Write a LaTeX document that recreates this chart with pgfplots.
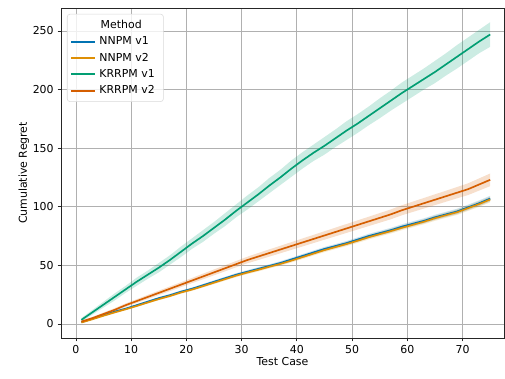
\documentclass[border=0pt]{standalone}
\usepackage{fontspec}
\setmainfont{DejaVu Sans}
\usepackage{pgfplots}
\usepackage{pgfplotstable}
\pgfplotsset{compat=1.18}
\usepgfplotslibrary{fillbetween}
\usetikzlibrary{calc}
\definecolor{cb1}{HTML}{0173B2}
\definecolor{cb2}{HTML}{DE8F05}
\definecolor{cb3}{HTML}{029E73}
\definecolor{cb4}{HTML}{D55E00}
\definecolor{gridc}{HTML}{B0B0B0}

\pgfplotstableread{
x y e
1 1.5 0.4
3 4.5 0.5
5 7.5 0.6
7 10.5 0.7
9 13 0.8
11 16 0.8
13 19 0.9
15 22 0.9
17 24.5 1.0
19 27.5 1.0
21 30 1.1
23 33 1.1
25 36 1.2
27 39 1.2
29 42 1.3
31 44.5 1.3
33 47 1.4
35 49.5 1.4
37 52 1.5
39 55 1.5
41 58 1.6
43 61 1.6
45 64 1.7
47 66.5 1.7
49 69 1.8
51 72 1.8
53 75 1.9
55 77.5 1.9
57 80 2.0
59 83 2.0
61 85.5 2.1
63 88 2.1
65 91 2.2
67 93.5 2.2
69 96 2.3
71 99.5 2.3
73 103 2.4
75 107 2.4
}\NA
\pgfplotstableread{
x y e
1 1.2 0.4
3 4 0.5
5 7 0.6
7 9.8 0.7
9 12.5 0.8
11 15.3 0.8
13 18.3 0.9
15 21.2 0.9
17 23.8 1.0
19 26.8 1.0
21 29.3 1.1
23 32.2 1.1
25 35.2 1.2
27 38.2 1.2
29 41.2 1.3
31 43.8 1.3
33 46.2 1.4
35 48.8 1.4
37 51.2 1.5
39 54 1.5
41 57 1.6
43 60 1.6
45 63 1.7
47 65.6 1.7
49 68.2 1.8
51 71 1.8
53 74 1.9
55 76.6 1.9
57 79.2 2.0
59 82 2.0
61 84.6 2.1
63 87.2 2.1
65 90.2 2.2
67 92.8 2.2
69 95.3 2.3
71 98.8 2.3
73 102.3 2.4
75 106.2 2.4
}\NB
\pgfplotstableread{
x y e
1 3.5 1.5
3 10 2
5 16.5 2.5
7 23 3
9 29.5 3
11 36 3.5
13 42 3.5
15 48 4
17 54.5 4
19 61.5 4.5
21 68.5 4.5
23 75 5
25 82 5
27 89 5.5
29 96.5 5.5
31 103.5 6
33 110.5 6
35 118 6.5
37 125 6.5
39 132.5 7
41 139.5 7
43 146 7
45 152 7.5
47 158.5 7.5
49 165 8
51 171 8
53 177.5 8
55 184 8.5
57 190.5 8.5
59 197 9
61 203 9
63 209 9
65 215 9.5
67 221.5 9.5
69 228 10
71 234.5 10
73 241 10
75 247 10.5
}\KA
\pgfplotstableread{
x y e
1 2 0.8
3 5 1.0
5 8.5 1.2
7 12 1.4
9 16 1.5
11 19.5 1.6
13 23 1.8
15 26.5 1.9
17 30 2.0
19 33.5 2.1
21 37 2.2
23 40.5 2.4
25 44 2.5
27 47.5 2.6
29 51 2.7
31 54.5 2.8
33 57.5 3.0
35 60.5 3.1
37 63.5 3.2
39 66.5 3.3
41 69.5 3.4
43 72.5 3.5
45 75.5 3.6
47 78.5 3.7
49 81.5 3.8
51 84.5 3.9
53 87.5 4.0
55 90.5 4.1
57 93.5 4.2
59 97 4.3
61 100 4.4
63 103 4.5
65 106 4.6
67 109 4.7
69 112 4.8
71 115 5.0
73 119 5.2
75 123 5.4
}\KB

\begin{document}
\fontsize{8.2}{10}\selectfont
\begin{tikzpicture}
\begin{axis}[
  scale only axis,
  width=332.25pt, height=247.5pt,
  xmin=-2.7, xmax=77.5, ymin=-12, ymax=269.6,
  xtick={0,10,...,70}, ytick={0,50,...,250},
  grid=major,
  major grid style={gridc, line width=0.6pt},
  axis line style={black!85, line width=0.6pt},
  tick style={black!85, line width=0.6pt},
  tick align=outside, tick pos=left,
  major tick length=2.6pt,
  /pgf/number format/assume math mode=true,
  ticklabel style={font=\fontsize{8.2}{10}\selectfont},
  label style={font=\fontsize{8.2}{10}\selectfont},
  xlabel={Test Case}, ylabel={Cumulative Regret},
  xlabel style={yshift=3pt},
  ylabel style={yshift=-3pt},
  legend cell align=left,
  legend style={at={(0.0135,0.982)}, anchor=north west, draw=black!15, rounded corners=2pt,
    fill=white, fill opacity=0.8, draw opacity=1, text opacity=1, font=\fontsize{8.2}{10}\selectfont,
    row sep=1pt, inner xsep=3pt, inner ysep=2.5pt,
    nodes={inner xsep=3.5pt}},
]
% NNPM v1
\addplot[draw=none, name path=a1, forget plot] table[x=x, y expr=\thisrow{y}+\thisrow{e}]{\NA};
\addplot[draw=none, name path=a2, forget plot] table[x=x, y expr=\thisrow{y}-\thisrow{e}]{\NA};
\addplot[cb1, fill opacity=0.2, forget plot] fill between[of=a1 and a2];
\addplot[cb1, line width=1.25pt, forget plot] table[x=x,y=y]{\NA};
% NNPM v2
\addplot[draw=none, name path=b1, forget plot] table[x=x, y expr=\thisrow{y}+\thisrow{e}]{\NB};
\addplot[draw=none, name path=b2, forget plot] table[x=x, y expr=\thisrow{y}-\thisrow{e}]{\NB};
\addplot[cb2, fill opacity=0.2, forget plot] fill between[of=b1 and b2];
\addplot[cb2, line width=1.25pt, forget plot] table[x=x,y=y]{\NB};
% KRRPM v1
\addplot[draw=none, name path=c1, forget plot] table[x=x, y expr=\thisrow{y}+\thisrow{e}]{\KA};
\addplot[draw=none, name path=c2, forget plot] table[x=x, y expr=\thisrow{y}-\thisrow{e}]{\KA};
\addplot[cb3, fill opacity=0.2, forget plot] fill between[of=c1 and c2];
\addplot[cb3, line width=1.25pt, forget plot] table[x=x,y=y]{\KA};
% KRRPM v2
\addplot[draw=none, name path=d1, forget plot] table[x=x, y expr=\thisrow{y}+\thisrow{e}]{\KB};
\addplot[draw=none, name path=d2, forget plot] table[x=x, y expr=\thisrow{y}-\thisrow{e}]{\KB};
\addplot[cb4, fill opacity=0.2, forget plot] fill between[of=d1 and d2];
\addplot[cb4, line width=1.25pt, forget plot] table[x=x,y=y]{\KB};
% legend
\addlegendimage{empty legend}
\addlegendentry{\hspace{-0.1cm}\makebox[1.35cm][c]{Method}}
\addlegendimage{legend image code/.code={\fill[cb1, draw=none, sharp corners, fill opacity=1] (0cm,-0.7pt) rectangle (0.62cm,0.7pt);}}
\addlegendentry{NNPM v1}
\addlegendimage{legend image code/.code={\fill[cb2, draw=none, sharp corners, fill opacity=1] (0cm,-0.7pt) rectangle (0.62cm,0.7pt);}}
\addlegendentry{NNPM v2}
\addlegendimage{legend image code/.code={\fill[cb3, draw=none, sharp corners, fill opacity=1] (0cm,-0.7pt) rectangle (0.62cm,0.7pt);}}
\addlegendentry{KRRPM v1}
\addlegendimage{legend image code/.code={\fill[cb4, draw=none, sharp corners, fill opacity=1] (0cm,-0.7pt) rectangle (0.62cm,0.7pt);}}
\addlegendentry{KRRPM v2}
\end{axis}
\path ($(current axis.south west)+(-45.75pt,-30pt)$) rectangle ($(current axis.north east)+(0.75pt,6pt)$);
\end{tikzpicture}
\end{document}
